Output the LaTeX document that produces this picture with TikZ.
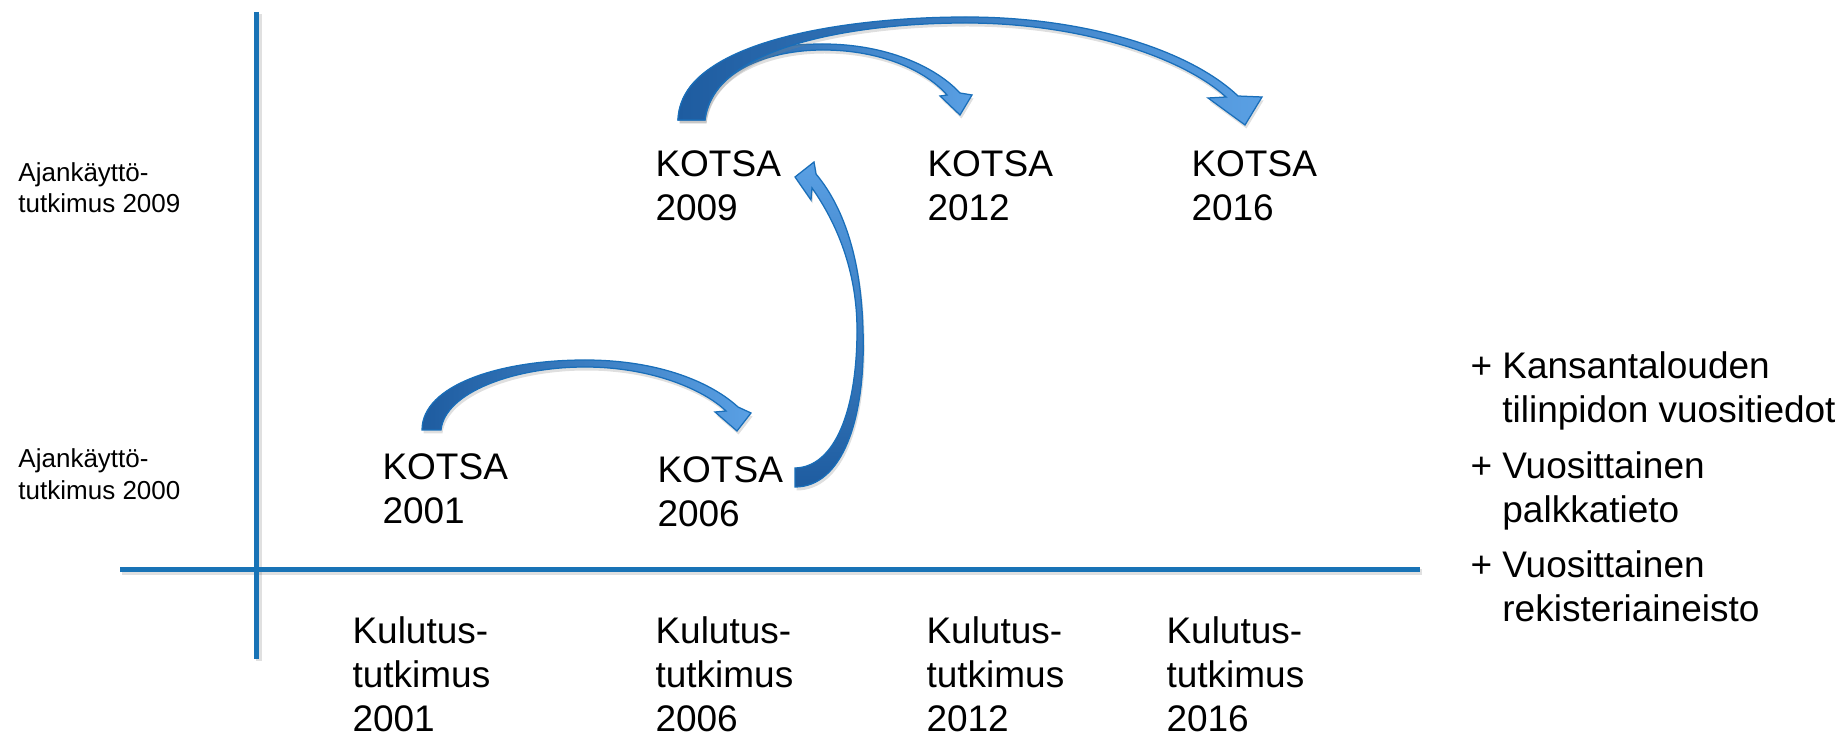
\documentclass[tikz,border=0pt]{standalone}
\usepackage{fontspec}
\setmainfont{Liberation Sans}
\usetikzlibrary{shadows}
\definecolor{axisblue}{RGB}{24,115,182}
\definecolor{arrdark}{RGB}{30,92,160}
\definecolor{arrlight}{RGB}{90,160,228}
\definecolor{arredge}{RGB}{25,110,185}
\begin{document}
\begin{tikzpicture}[x=0.4pt,y=-0.4pt,
  axis/.style={line width=2pt, draw=axisblue},
  axshadow/.style={line width=2.6pt, draw=black, opacity=0.12},
  bigtext/.style={anchor=base west, inner sep=0pt, align=left, font=\fontsize{14.8}{17.6}\selectfont},
  smalltext/.style={anchor=base west, inner sep=0pt, align=left, font=\fontsize{10.4}{12.7}\selectfont},
  arrowshape/.style={draw=arredge, line width=0.5pt, left color=arrdark, right color=arrlight,
    drop shadow={opacity=0.25, shadow xshift=0.6pt, shadow yshift=-1.4pt}},
  arrowshapeV/.style={arrowshape, top color=arrlight, bottom color=arrdark}
]
\useasboundingbox (0,0) rectangle (1844,738);

% axes
\coordinate (vtop) at (256,12);
\coordinate (vbot) at (256,659);
\coordinate (hl) at (120,569);
\coordinate (hr) at (1420,569);
\draw[axshadow] ([shift={(3,2)}]vtop) -- ([shift={(3,2)}]vbot);
\draw[axshadow] ([shift={(2,3)}]hl) -- ([shift={(2,3)}]hr);
\draw[axis] (vtop) -- (vbot);
\draw[axis] (hl) -- (hr);

% labels (base anchor = baseline of the last line)
\node[smalltext] (a09) at (18,213) {Ajankäyttö-\\tutkimus 2009};
\node[smalltext] (a00) at (18,499) {Ajankäyttö-\\tutkimus 2000};

\node[bigtext] (k01) at (382,523) {KOTSA\\2001};
\node[bigtext] (k06) at (657,526) {KOTSA\\2006};
\node[bigtext] (k09) at (655,221) {KOTSA\\2009};
\node[bigtext] (k12) at (927,221) {KOTSA\\2012};
\node[bigtext] (k16) at (1191,221) {KOTSA\\2016};

\node[bigtext] (c01) at (352,731) {Kulutus-\\tutkimus\\2001};
\node[bigtext] (c06) at (655,731) {Kulutus-\\tutkimus\\2006};
\node[bigtext] (c12) at (926,731) {Kulutus-\\tutkimus\\2012};
\node[bigtext] (c16) at (1166,731) {Kulutus-\\tutkimus\\2016};

\node[bigtext] (p1) at (1470,423) {+ Kansantalouden\\\hphantom{+~}tilinpidon vuositiedot};
\node[bigtext] (p2) at (1470,522) {+ Vuosittainen\\\hphantom{+~}palkkatieto};
\node[bigtext] (p3) at (1470,621) {+ Vuosittainen\\\hphantom{+~}rekisteriaineisto};

% arrows
% KOTSA 2009 -> KOTSA 2012
\path[arrowshape] (678,120) .. controls (682,60) and (760,44) .. (823,44)
  .. controls (885,44) and (935,66) .. (960,93)
  -- (972,95) -- (960,115) -- (940,96) -- (947,95)
  .. controls (925,70) and (880,50) .. (823,50)
  .. controls (770,50) and (712,70) .. (705,120) -- cycle;
% KOTSA 2009 -> KOTSA 2016
\path[arrowshape] (678,120) .. controls (680,40) and (850,17) .. (966,17)
  .. controls (1090,17) and (1192,52) .. (1238,96)
  -- (1262,97) -- (1245,125) -- (1208,98) -- (1226,97)
  .. controls (1182,57) and (1080,23) .. (966,23)
  .. controls (850,23) and (712,48) .. (705,120) -- cycle;
% KOTSA 2001 -> KOTSA 2006
\path[arrowshape] (422,430) .. controls (422,385) and (500,360) .. (585,360)
  .. controls (660,360) and (712,383) .. (738,407)
  -- (751,413) -- (737,431) -- (715,412) -- (726,411)
  .. controls (704,390) and (652,367) .. (585,367)
  .. controls (515,367) and (445,392) .. (441,430) -- cycle;
% KOTSA 2006 -> KOTSA 2009
\path[arrowshapeV] (795,487) .. controls (842,487) and (866,420) .. (863,330)
  .. controls (861,255) and (842,205) .. (816,174)
  -- (814,162) -- (795,177) -- (811,200) -- (812,188)
  .. controls (836,222) and (857,270) .. (857,330)
  .. controls (857,410) and (835,467) .. (795,468) -- cycle;
\end{tikzpicture}
\end{document}
